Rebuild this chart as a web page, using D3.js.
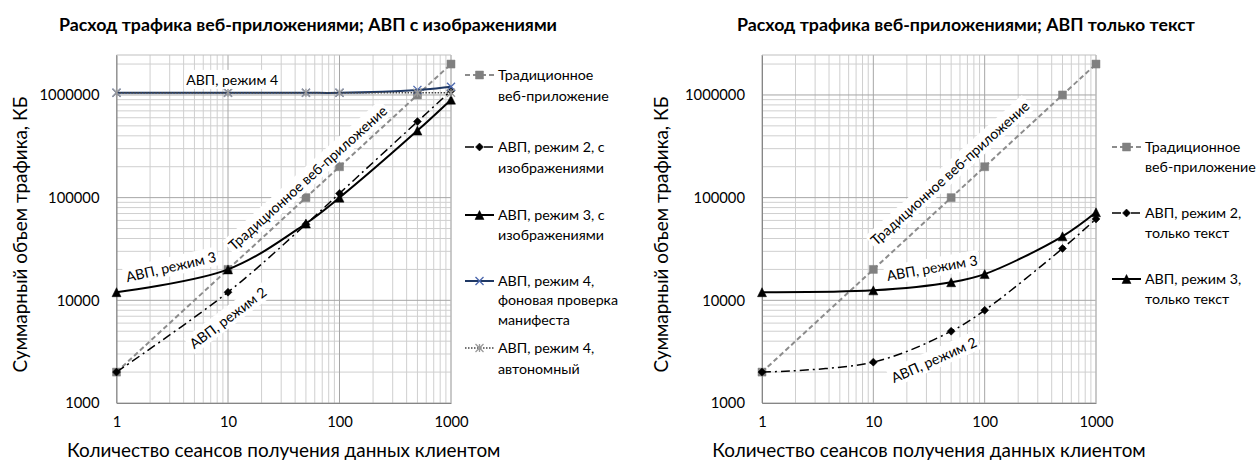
<!DOCTYPE html>
<html><head><meta charset="utf-8">
<script src="https://cdn.jsdelivr.net/npm/d3@7"></script>
<style>
body{margin:0;background:#fff;}
svg text{font-family:Lato,"Open Sans",sans-serif;fill:#000;}
</style>
</head><body>
<svg id="c" width="1257" height="462"></svg>
<script>
// ---------- DATA ----------
const sessions = [1, 10, 50, 100, 500, 1000];
const traditional = [2000, 20000, 100000, 200000, 1000000, 2000000];
const mode2Images = [2000, 12000, 55000, 110000, 550000, 1100000];
const mode3Images = [12000, 20000, 56000, 100000, 450000, 900000];
const mode4Background = [1050000, 1050000, 1050000, 1050000, 1120000, 1200000];
const mode4Offline = [1050000, 1050000, 1050000, 1050000, 1050000, 1050000];
const mode2Text = [2000, 2500, 5000, 8000, 32000, 62000];
const mode3Text = [12000, 12500, 15000, 18000, 42000, 72000];
const xTickValues = [1, 10, 100, 1000];
const yTickValues = [1000, 10000, 100000, 1000000];
const titleLeft = "Расход трафика веб-приложениями; АВП с изображениями";
const titleRight = "Расход трафика веб-приложениями; АВП только текст";
const yAxisTitle = "Суммарный объем трафика, КБ";
const xAxisTitle = "Количество сеансов получения данных клиентом";

// ---------- STYLES ----------
const styles = {
  trad:   {stroke:"#8c8c8c", width:2,   dash:"5,3",        marker:"square",   mfill:"#808080", mstroke:"#808080"},
  m2:     {stroke:"#000",    width:1.5, dash:"9,4,2,4",    marker:"diamond",  mfill:"#000",    mstroke:"#000"},
  m3:     {stroke:"#000",    width:2,   dash:null,         marker:"triangle", mfill:"#000",    mstroke:"#000"},
  m4bg:   {stroke:"#1f3864", width:2,   dash:null,         marker:"x",        mfill:"none",    mstroke:"#4a66ac"},
  m4off:  {stroke:"#444",    width:1.5, dash:"1.5,1.5",    marker:"star",     mfill:"none",    mstroke:"#9a9a9a"}
};

const svg = d3.select("#c");

// font sizes fitted to text widths measured on the reference
function fit(text, target, weight) {
  const t = svg.append("text").style("font-size", "100px").style("font-weight", weight || "normal").text(text);
  const w = t.node().getComputedTextLength(); t.remove();
  return 100 * target / w;
}
const titleSize = (fit("Расход трафика веб-приложениями; АВП с изоб", 401, "bold") + fit("Расход трафика веб-приложениями; А", 323, "bold")) / 2;
const axisTitleSize = (fit(yAxisTitle, 275) + fit("Количество сеансов получения данных клие", 388) + fit("Количество сеансов получения данных", 346)) / 3;
const labelSize = (fit("АВП, режим 3", 92) + fit("АВП, режим 4", 92)) / 2;
const legendSize = (fit("Традиционное", 96) + fit("веб-приложение", 110)) / 2;
const tickSize = fit("1000000", 60);

function markerPath(type, s) {
  const p = d3.path();
  if (type === "square") { p.rect(-s/2, -s/2, s, s); }
  else if (type === "diamond") { p.moveTo(0,-s/2); p.lineTo(s/2,0); p.lineTo(0,s/2); p.lineTo(-s/2,0); p.closePath(); }
  else if (type === "triangle") { p.moveTo(0,-s/2); p.lineTo(s/2,s/2); p.lineTo(-s/2,s/2); p.closePath(); }
  else if (type === "x") { p.moveTo(-s/2,-s/2); p.lineTo(s/2,s/2); p.moveTo(s/2,-s/2); p.lineTo(-s/2,s/2); }
  else if (type === "star") { p.moveTo(-s/2,-s/2); p.lineTo(s/2,s/2); p.moveTo(s/2,-s/2); p.lineTo(-s/2,s/2); p.moveTo(0,-s/2); p.lineTo(0,s/2); }
  return p.toString();
}
const markerSize = {square:8, diamond:8, triangle:9, x:8, star:8};

function drawMarker(g, type, st, x, y) {
  g.append("path").attr("d", markerPath(type, markerSize[type]))
    .attr("transform", `translate(${x},${y})`)
    .attr("fill", st.mfill).attr("stroke", st.mstroke)
    .attr("stroke-width", (type==="x"||type==="star") ? 1.3 : 0.5);
}

function drawPanel(cfg) {
  const g = svg.append("g");
  const x = d3.scaleLog().domain([1, 1000]).range([cfg.x0, cfg.x1]);
  const y = d3.scaleLog().domain([1000, 2450000]).range([403, 55]);

  const xMinor = [], yMinor = [];
  for (let d = 1; d < 1000; d *= 10) for (let k = 2; k <= 9; k++) xMinor.push(d*k);
  for (let d = 1000; d < 2450000; d *= 10) for (let k = 2; k <= 9; k++) if (d*k <= 2450000) yMinor.push(d*k);
  g.selectAll(null).data(xMinor).enter().append("line")
    .attr("x1", d=>x(d)).attr("x2", d=>x(d)).attr("y1", 55).attr("y2", 403)
    .attr("stroke", "#cfcfcf").attr("stroke-width", 1);
  g.selectAll(null).data(yMinor).enter().append("line")
    .attr("y1", d=>y(d)).attr("y2", d=>y(d)).attr("x1", cfg.x0).attr("x2", cfg.x1)
    .attr("stroke", "#cfcfcf").attr("stroke-width", 1);
  g.selectAll(null).data(xTickValues).enter().append("line")
    .attr("x1", d=>x(d)).attr("x2", d=>x(d)).attr("y1", 55).attr("y2", 403)
    .attr("stroke", "#a6a6a6").attr("stroke-width", 1);
  g.selectAll(null).data(yTickValues).enter().append("line")
    .attr("y1", d=>y(d)).attr("y2", d=>y(d)).attr("x1", cfg.x0).attr("x2", cfg.x1)
    .attr("stroke", "#a6a6a6").attr("stroke-width", 1);
  g.append("line").attr("x1", cfg.x0).attr("x2", cfg.x1).attr("y1", 55).attr("y2", 55).attr("stroke", "#bfbfbf");
  g.append("line").attr("x1", cfg.x1).attr("x2", cfg.x1).attr("y1", 55).attr("y2", 403).attr("stroke", "#bfbfbf");

  const xAxis = d3.axisBottom(x).tickValues(xTickValues).tickFormat(d3.format("d")).tickSize(0).tickPadding(14);
  const yAxis = d3.axisLeft(y).tickValues(yTickValues).tickFormat(d3.format("d")).tickSize(0).tickPadding(17);
  const gx = g.append("g").attr("transform", "translate(0,403)").call(xAxis);
  const gy = g.append("g").attr("transform", `translate(${cfg.x0},0)`).call(yAxis);
  [gx, gy].forEach(a => {
    a.select(".domain").attr("stroke", "#868686").attr("stroke-width", 1);
    a.selectAll("text").style("font-size", tickSize + "px").style("font-family", "Lato");
  });

  const line = d3.line().x((d,i)=>x(sessions[i])).y(d=>y(d)).curve(d3.curveCatmullRom.alpha(0.5));
  cfg.series.forEach(s => {
    const st = styles[s.style];
    g.append("path").datum(s.values).attr("d", line)
      .attr("fill", "none").attr("stroke", st.stroke).attr("stroke-width", st.width)
      .attr("stroke-dasharray", st.dash);
    s.values.forEach((v,i) => drawMarker(g, st.marker, st, x(sessions[i]), y(v)));
  });

  cfg.labels.forEach(l => {
    const lg = g.append("g").attr("transform", `translate(${x(l.at[0])},${y(l.at[1])}) rotate(${l.angle})`);
    const t = lg.append("text").attr("text-anchor", "middle").attr("dy", "0.35em")
      .style("font-size", labelSize + "px").text(l.text);
    const bb = t.node().getBBox();
    lg.insert("rect", "text").attr("x", bb.x-2).attr("y", bb.y-1).attr("width", bb.width+4).attr("height", bb.height+2).attr("fill", "#fff");
  });

  svg.append("text").attr("x", cfg.titleX).attr("y", 30.5)
    .style("font-size", titleSize + "px").style("font-weight", "bold").text(cfg.title);
  svg.append("text").attr("transform", `translate(${cfg.yTitleX},234.5) rotate(-90)`)
    .attr("text-anchor", "middle").attr("dy", "0.35em").style("font-size", axisTitleSize + "px").text(yAxisTitle);
  svg.append("text").attr("x", (cfg.x0 + cfg.x1) / 2).attr("y", 456.5)
    .attr("text-anchor", "middle").style("font-size", axisTitleSize + "px").text(xAxisTitle);

  cfg.legend.forEach(e => {
    const st = styles[e.style];
    const lg = svg.append("g").attr("transform", `translate(${cfg.legX},${e.y})`);
    lg.append("line").attr("x1", 0).attr("x2", 29).attr("y1", 0).attr("y2", 0)
      .attr("stroke", st.stroke).attr("stroke-width", st.width).attr("stroke-dasharray", st.dash);
    drawMarker(lg, st.marker, st, 14.5, 0);
    e.lines.forEach((ln, i) => lg.append("text").attr("x", 33).attr("y", i*e.gap).attr("dy", "0.35em")
      .style("font-size", legendSize + "px").text(ln));
  });
}

drawPanel({
  x0: 116.5, x1: 451, titleX: 59, title: titleLeft, yTitleX: 20, legX: 465,
  series: [
    {style:"trad", values: traditional},
    {style:"m2", values: mode2Images},
    {style:"m3", values: mode3Images},
    {style:"m4bg", values: mode4Background},
    {style:"m4off", values: mode4Offline}
  ],
  labels: [
    {text:"АВП, режим 4", at:[10.9, 1400000], angle:0},
    {text:"Традиционное веб-приложение", at:[52, 155000], angle:-42},
    {text:"АВП, режим 3", at:[3.08, 21100], angle:-13},
    {text:"АВП, режим 2", at:[10, 6730], angle:-37}
  ],
  legend: [
    {style:"trad", y:75, gap:21, lines:["Традиционное","веб-приложение"]},
    {style:"m2", y:147, gap:21, lines:["АВП, режим 2, с","изображениями"]},
    {style:"m3", y:215, gap:20, lines:["АВП, режим 3, с","изображениями"]},
    {style:"m4bg", y:281, gap:19.5, lines:["АВП, режим 4,","фоновая проверка","манифеста"]},
    {style:"m4off", y:348, gap:21, lines:["АВП, режим 4,","автономный"]}
  ]
});

drawPanel({
  x0: 762, x1: 1096, titleX: 737, title: titleRight, yTitleX: 661, legX: 1112,
  series: [
    {style:"trad", values: traditional},
    {style:"m2", values: mode2Text},
    {style:"m3", values: mode3Text}
  ],
  labels: [
    {text:"Традиционное веб-приложение", at:[48.9, 173000], angle:-42},
    {text:"АВП, режим 3", at:[33.7, 20600], angle:-10},
    {text:"АВП, режим 2", at:[35, 2620], angle:-24}
  ],
  legend: [
    {style:"trad", y:147, gap:20, lines:["Традиционное","веб-приложение"]},
    {style:"m2", y:213, gap:20, lines:["АВП, режим 2,","только текст"]},
    {style:"m3", y:279, gap:20, lines:["АВП, режим 3,","только текст"]}
  ]
});
</script>
</body></html>
